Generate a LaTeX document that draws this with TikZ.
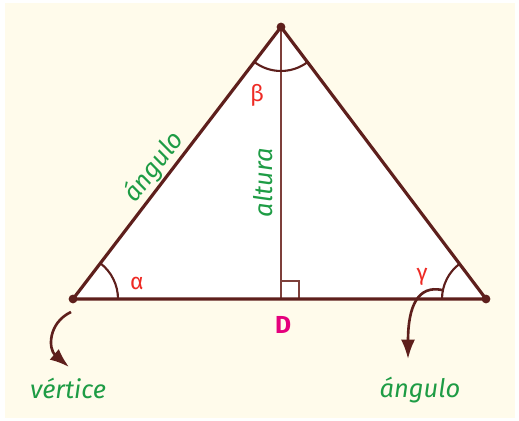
\documentclass[tikz,border=0pt]{standalone}
\usepackage{fontspec}
\setmainfont{Fira Sans}
\usepackage{xcolor}
\definecolor{trianglebrown}{HTML}{5E1F1C}
\definecolor{heightbrown}{HTML}{7E3F3A}
\definecolor{labelgreen}{HTML}{1E9C45}
\definecolor{anglered}{HTML}{EE2A24}
\definecolor{pointmagenta}{HTML}{E5007D}
\definecolor{papercream}{HTML}{FFFBEB}
\usepackage{tikz}
\usetikzlibrary{positioning, arrows.meta}

\begin{document}
\begin{tikzpicture}[
  x=0.02cm, y=0.02cm,
  side/.style={draw=trianglebrown, line width=1.8pt, line join=miter},
  heightline/.style={draw=heightbrown, line width=1.2pt},
  anglearc/.style={draw=trianglebrown, line width=1.2pt},
  vertexdot/.style={circle, fill=trianglebrown, inner sep=0pt, minimum size=5pt},
  greeklabel/.style={font=\fontsize{13}{15}\selectfont, text=anglered},
  wordlabel/.style={font=\fontsize{14.5}{17}\selectfont\itshape, text=labelgreen},
  pointlabel/.style={font=\fontsize{14}{16}\selectfont\bfseries, text=pointmagenta},
  pointer/.style={-{Latex[length=11pt, width=8pt]}, draw=trianglebrown, line width=1.5pt}
]

% ---- FONDO ----
\useasboundingbox (0,0) rectangle (519,421);
\fill[papercream] (5,3) rectangle (515,418);

% ---- TRIANGULO ----
\coordinate (A) at (281,394);
\coordinate (B) at (73,122);
\coordinate (C) at (486,122);
\coordinate (D) at (A |- B);

\fill[white] (A) -- (B) -- (C) -- cycle;
\draw[heightline] (A) -- (D);
\draw[heightline] ([yshift=0.36cm]D) -| ([xshift=0.36cm]D);
\draw[side] (A) -- (B) -- (C) -- cycle;

% ---- ANGULOS ----
\draw[anglearc] (B) ++(0:45) arc[start angle=0, end angle=52.7, radius=45];
\draw[anglearc] (A) ++(232.6:44) arc[start angle=232.6, end angle=307, radius=44];
\draw[anglearc] (C) ++(180:44) arc[start angle=180, end angle=127, radius=44];

\node[vertexdot] (pa) at (A) {};
\node[vertexdot] (pb) at (B) {};
\node[vertexdot] (pc) at (C) {};

\node[greeklabel] (alpha) at (137,138) {α};
\node[greeklabel] (beta)  at (257,326) {β};
\node[greeklabel] (gamma) at (422,144) {γ};
\node[pointlabel] (dlabel) at (283,96) {D};

% ---- ROTULOS ----
\node[wordlabel, rotate=52.7] (angside) at (154,254) {ángulo};
\node[wordlabel, rotate=90]   (altura)  at (263,238) {altura};
\node[wordlabel] (vertice)   at (68,33)  {vértice};
\node[wordlabel] (angbottom) at (420,31) {ángulo};

% ---- FLECHAS ----
\coordinate (vtail) at (71,109);
\coordinate (vhead) at (69,54);
\draw[pointer] (vtail) .. controls (48,98) and (48,72) .. (vhead);

\coordinate (gtail) at (442,131);
\coordinate (ghead) at (408,62);
\draw[pointer] (gtail) .. controls (418,136) and (408,115) .. (ghead);

\end{tikzpicture}
\end{document}
